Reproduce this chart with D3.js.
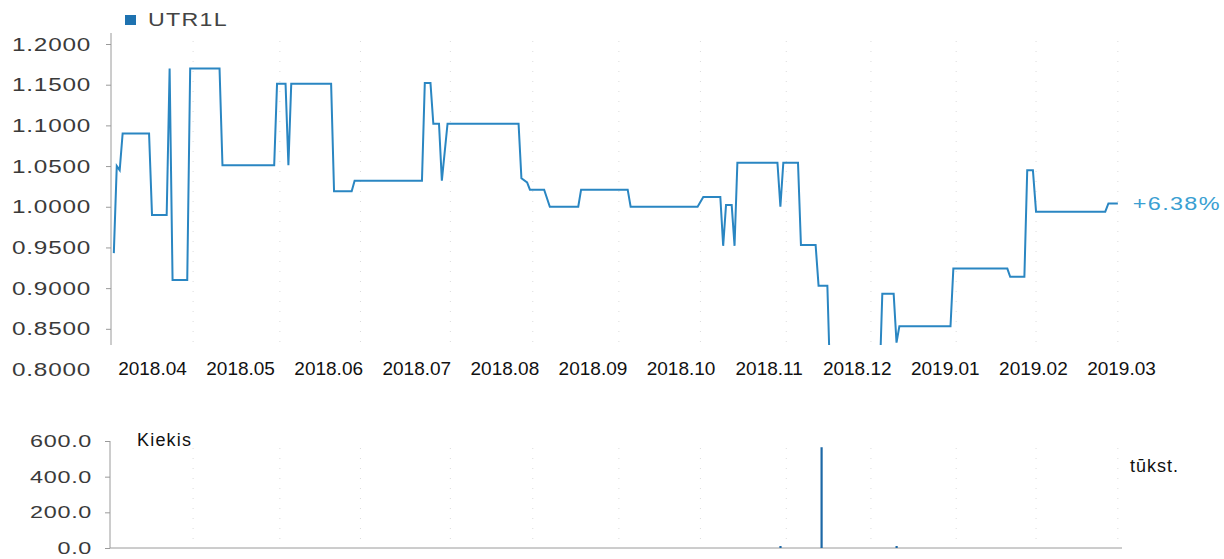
<!DOCTYPE html>
<html>
<head>
<meta charset="utf-8">
<script src="https://cdn.jsdelivr.net/npm/d3@7"></script>
<style>
  html, body { margin: 0; padding: 0; background: #fff; }
  svg { display: block; font-family: "Liberation Sans", Arial, sans-serif; }
</style>
</head>
<body>
<svg id="chart" width="1224" height="559"></svg>
<script>
// ---------- DATA ----------
const seriesName = "UTR1L";
const changeLabel = "+6.38%";
const volumeLabel = "Kiekis";
const volumeUnit = "tūkst.";

const priceDates = [
  "2018-03-19","2018-03-20","2018-03-21","2018-03-22","2018-03-31",
  "2018-04-01","2018-04-06","2018-04-07","2018-04-08","2018-04-13",
  "2018-04-14","2018-04-24","2018-04-25","2018-05-13","2018-05-14",
  "2018-05-17","2018-05-18","2018-05-19","2018-06-02","2018-06-03",
  "2018-06-09","2018-06-10","2018-07-03","2018-07-04","2018-07-06",
  "2018-07-07","2018-07-09","2018-07-10","2018-07-12","2018-08-06",
  "2018-08-07","2018-08-09","2018-08-10","2018-08-15","2018-08-17",
  "2018-08-27","2018-08-28","2018-09-13","2018-09-14","2018-10-07",
  "2018-10-09","2018-10-15","2018-10-16","2018-10-17","2018-10-19",
  "2018-10-20","2018-10-21","2018-11-04","2018-11-05","2018-11-06",
  "2018-11-11","2018-11-12","2018-11-17","2018-11-18","2018-11-21",
  "2018-11-22","2018-12-09","2018-12-10","2018-12-14","2018-12-15",
  "2018-12-16","2019-01-03","2019-01-04","2019-01-23","2019-01-24",
  "2019-01-29","2019-01-30","2019-02-01","2019-02-02","2019-02-24",
  "2019-02-25","2019-02-28"
];
const priceValues = [
  0.943,1.050,1.045,1.090,1.090,
  0.990,0.990,1.170,0.910,0.910,
  1.170,1.170,1.051,1.051,1.151,
  1.151,1.051,1.151,1.151,1.019,
  1.019,1.032,1.032,1.152,1.152,
  1.102,1.102,1.032,1.102,1.102,
  1.035,1.030,1.021,1.021,1.000,
  1.000,1.021,1.021,1.000,1.000,
  1.012,1.012,0.952,1.002,1.002,
  0.952,1.054,1.054,1.000,1.054,
  1.054,0.953,0.953,0.903,0.903,
  0.780,0.780,0.893,0.893,0.833,
  0.853,0.853,0.924,0.924,0.914,
  0.914,1.045,1.045,0.994,0.994,
  1.004,1.004
];

const volumeDates = ["2018-11-05","2018-11-19","2018-12-15"];
const volumeValues = [8, 565, 10];

const monthTicks = ["2018-04-01","2018-05-01","2018-06-01","2018-07-01","2018-08-01","2018-09-01",
                    "2018-10-01","2018-11-01","2018-12-01","2019-01-01","2019-02-01","2019-03-01"];
const gridDates = ["2018-04-15","2018-05-15","2018-06-12","2018-07-13","2018-08-11","2018-09-10",
                   "2018-10-08","2018-11-07","2018-12-06","2019-01-05","2019-02-02","2019-02-28"];
const priceTicks = [0.80,0.85,0.90,0.95,1.00,1.05,1.10,1.15,1.20];
const volumeTicks = [0,200,400,600];

// ---------- SETUP ----------
const parse = d3.timeParse("%Y-%m-%d");
const prices = priceDates.map((d,i) => ({date: parse(d), value: priceValues[i]}));
const volumes = volumeDates.map((d,i) => ({date: parse(d), value: volumeValues[i]}));
const ticks = monthTicks.map(parse);

const svg = d3.select("#chart");
const lineColor = "#2a86c2";
const axisColor = "#9a9a9a";

// horizontally widen text so the widest item reaches the reference width
function widenTo(sel, targetWidth, x0) {
  let maxW = 0;
  sel.each(function() { maxW = Math.max(maxW, this.getComputedTextLength()); });
  const s = maxW > 0 ? targetWidth / maxW : 1;
  sel.attr("x", x0 / s).attr("transform", `scale(${s},1)`);
}

// month labels are evenly spaced -> polylinear time scale
const slot = d3.scaleLinear().domain([0, ticks.length - 1]).range([152, 1121]);
const x = d3.scaleTime().domain(ticks).range(ticks.map((d,i) => slot(i)));

const plotLeft = 111, plotRight = 1124, plotTop = 33, plotBottom = 345;
const y = d3.scaleLinear().domain([0.8, 1.2]).range([369.5, 44]);

// grid (faint dotted verticals)
const gridG = svg.append("g");
gridDates.map(parse).forEach(d => {
  gridG.append("line").attr("x1", x(d)).attr("x2", x(d)).attr("y1", plotTop + 8).attr("y2", plotBottom)
    .attr("stroke", "#dcdcdc").attr("stroke-width", 1).attr("stroke-dasharray", "1,9");
  gridG.append("line").attr("x1", x(d)).attr("x2", x(d)).attr("y1", 448).attr("y2", 546)
    .attr("stroke", "#dcdcdc").attr("stroke-width", 1).attr("stroke-dasharray", "1,9");
});

// ---------- TOP: price chart ----------
svg.append("clipPath").attr("id", "clipTop").append("rect")
  .attr("x", plotLeft).attr("y", plotTop).attr("width", plotRight - plotLeft).attr("height", plotBottom - plotTop);

const yAxis = d3.axisLeft(y).tickValues(priceTicks).tickFormat(d3.format(".4f")).tickSize(5).tickPadding(14);
const yAxisG = svg.append("g").attr("transform", `translate(${plotLeft},0)`).call(yAxis);
yAxisG.select(".domain").remove();
yAxisG.selectAll(".tick line").attr("stroke", axisColor)
  .attr("display", d => d < 0.825 ? "none" : null);
const yTxt = yAxisG.selectAll(".tick text").attr("fill", "#3a3a3a").style("font-size", "19px")
  .style("letter-spacing", "0.6px").style("font-family", "Liberation Sans, Arial, sans-serif");
widenTo(yTxt, 79, -20);
svg.append("line").attr("x1", plotLeft).attr("x2", plotLeft).attr("y1", plotTop).attr("y2", plotBottom)
  .attr("stroke", axisColor).attr("stroke-width", 1);

const xAxis = d3.axisBottom(x).tickValues(ticks).tickFormat(d3.timeFormat("%Y.%m")).tickSize(0).tickPadding(0);
const xAxisG = svg.append("g").attr("transform", `translate(0,${361})`).call(xAxis);
xAxisG.select(".domain").remove();
xAxisG.selectAll(".tick text").attr("fill", "#111").style("font-size", "19px")
  .style("font-family", "Liberation Sans, Arial, sans-serif");

const line = d3.line().x(d => x(d.date)).y(d => y(d.value));
svg.append("path").datum(prices).attr("clip-path", "url(#clipTop)")
  .attr("fill", "none").attr("stroke", lineColor).attr("stroke-width", 2)
  .attr("stroke-linejoin", "miter").attr("d", line);

// end label
const last = prices[prices.length - 1];
const endTxt = svg.append("text").attr("y", y(last.value)).attr("dy", "0.35em")
  .attr("fill", "#3b9fd2").style("font-size", "18px").style("letter-spacing", "1px")
  .text(changeLabel);
widenTo(endTxt, 88, x(last.date) + 15);

// legend
svg.append("rect").attr("x", 125).attr("y", 15).attr("width", 11).attr("height", 10).attr("fill", "#1e72b0");
const legTxt = svg.append("text").attr("y", 20).attr("dy", "0.35em").attr("fill", "#444")
  .style("font-size", "18px").style("letter-spacing", "1px").text(seriesName);
widenTo(legTxt, 80, 148);

// ---------- BOTTOM: volume chart ----------
const y2 = d3.scaleLinear().domain([0, 600]).range([548, 441]);
const y2Axis = d3.axisLeft(y2).tickValues(volumeTicks).tickFormat(d3.format(".1f")).tickSize(5).tickPadding(14);
const y2G = svg.append("g").attr("transform", `translate(${plotLeft - 1},0)`).call(y2Axis);
y2G.select(".domain").attr("stroke", axisColor).attr("d", `M0,${y2(600)}V${y2(0)}`);
y2G.selectAll(".tick line").attr("stroke", axisColor);
const y2Txt = y2G.selectAll(".tick text").attr("fill", "#3a3a3a").style("font-size", "17px")
  .style("letter-spacing", "0.5px").style("font-family", "Liberation Sans, Arial, sans-serif");
widenTo(y2Txt, 62, -18);

svg.append("line").attr("x1", plotLeft - 1).attr("x2", 1122).attr("y1", y2(0)).attr("y2", y2(0))
  .attr("stroke", axisColor).attr("stroke-width", 1);

svg.append("g").selectAll("rect").data(volumes).join("rect")
  .attr("x", d => x(d.date) - 1).attr("width", 2.2)
  .attr("y", d => Math.min(y2(d.value), y2(0) - 2))
  .attr("height", d => Math.max(y2(0) - y2(d.value), 2))
  .attr("fill", "#1d68a6");

svg.append("text").attr("x", 137).attr("y", 440).attr("dy", "0.35em").attr("fill", "#111")
  .style("font-size", "18px").style("letter-spacing", "1.2px").text(volumeLabel);
svg.append("text").attr("x", 1130).attr("y", 466).attr("dy", "0.35em").attr("fill", "#111")
  .style("font-size", "18px").style("letter-spacing", "1px").text(volumeUnit);
</script>
</body>
</html>
